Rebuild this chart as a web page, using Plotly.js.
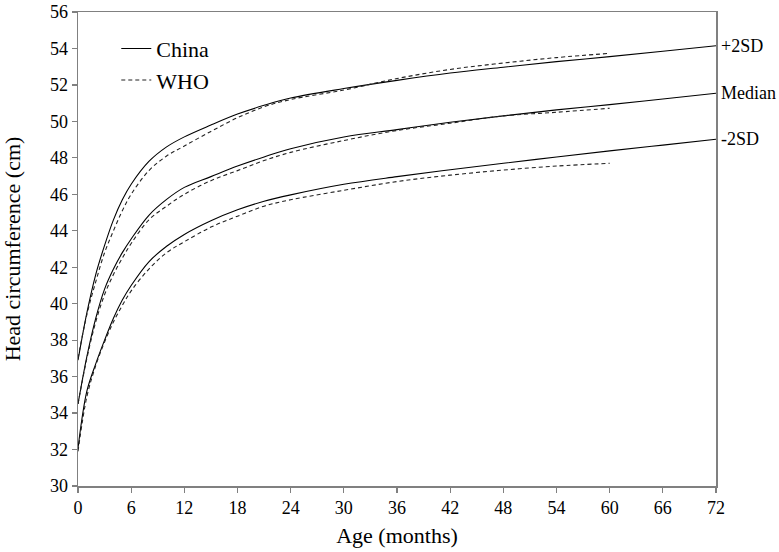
<!DOCTYPE html>
<html>
<head>
<meta charset="utf-8">
<script src="https://cdn.plot.ly/plotly-3.0.1.min.js"></script>
<style>html,body{margin:0;padding:0;background:#fff}#chart{width:779px;height:552px}</style>
</head>
<body>
<div id="chart"></div>
<script>
// Age in months
var chinaMonths = [0,1,2,3,4,5,6,8,10,12,15,18,21,24,30,36,42,48,54,60,66,72];
var chinaPlus2SD = [36.9,39.5,41.6,43.2,44.6,45.7,46.55,47.8,48.6,49.15,49.8,50.4,50.88,51.28,51.8,52.25,52.65,52.97,53.28,53.55,53.85,54.15];
var chinaMedian  = [34.5,37.1,39.2,40.8,41.9,42.8,43.55,44.85,45.72,46.38,46.97,47.55,48.05,48.5,49.14,49.55,49.95,50.3,50.63,50.92,51.23,51.54];
var chinaMinus2SD = [32.07,35.2,36.7,38.0,39.2,40.2,41.0,42.3,43.15,43.8,44.55,45.15,45.62,45.97,46.55,46.97,47.35,47.7,48.05,48.38,48.7,49.02];

var whoMonths = [0,1,2,3,4,5,6,8,10,12,15,18,21,24,30,36,42,48,54,60];
var whoPlus2SD = [37.0,39.4,41.2,42.8,44.0,45.1,46.0,47.3,48.1,48.65,49.45,50.2,50.8,51.2,51.72,52.35,52.85,53.2,53.5,53.73];
var whoMedian  = [34.5,37.0,39.0,40.5,41.6,42.5,43.3,44.6,45.35,46.0,46.75,47.3,47.85,48.3,48.95,49.5,49.9,50.3,50.5,50.72];
var whoMinus2SD = [31.9,34.9,36.6,37.9,39.0,39.9,40.7,41.9,42.8,43.4,44.2,44.8,45.35,45.7,46.22,46.7,47.05,47.33,47.55,47.7];

var curveLabels = ['+2SD','Median','-2SD'];
var xTicks = [0,6,12,18,24,30,36,42,48,54,60,66,72];
var yTicks = [30,32,34,36,38,40,42,44,46,48,50,52,54,56];

var serif = 'Liberation Serif';
var solid = {color:'#000', width:1.1, shape:'spline', smoothing:1};
var dashed = {color:'#222', width:1.1, dash:'4px,3px', shape:'spline', smoothing:1};

var chinaSets = [chinaPlus2SD, chinaMedian, chinaMinus2SD];
var whoSets = [whoPlus2SD, whoMedian, whoMinus2SD];
var traces = [];
chinaSets.forEach(function(s, i){
  traces.push({x:chinaMonths, y:s, type:'scatter', mode:'lines', line:solid,
    name:'China', legendgroup:'china', showlegend:i===0, hoverinfo:'skip'});
});
whoSets.forEach(function(s, i){
  traces.push({x:whoMonths, y:s, type:'scatter', mode:'lines', line:dashed,
    name:'WHO', legendgroup:'who', showlegend:i===0, hoverinfo:'skip'});
});

var annotations = chinaSets.map(function(s, i){
  return {x:chinaMonths[chinaMonths.length-1], y:s[s.length-1], xref:'x', yref:'y',
    text:curveLabels[i], showarrow:false, xanchor:'left', yanchor:'middle', xshift:3,
    font:{family:serif, size:18, color:'#000'}};
});

var axisCommon = {
  showgrid:false, zeroline:false, showline:true, linecolor:'#808080', linewidth:1.5,
  mirror:true, ticks:'outside', ticklen:5, tickwidth:1.2, tickcolor:'#808080',
  tickfont:{family:serif, size:18, color:'#000'}
};

var layout = {
  width:779, height:552,
  margin:{l:78, r:63, t:12, b:66},
  paper_bgcolor:'#fff', plot_bgcolor:'#fff',
  font:{family:serif},
  showlegend:true,
  legend:{x:0.06, y:0.967, xanchor:'left', yanchor:'top', bgcolor:'rgba(0,0,0,0)',
    font:{family:serif, size:22, color:'#000'}, tracegroupgap:0},
  xaxis:Object.assign({}, axisCommon, {range:[0,72], tickvals:xTicks,
    title:{text:'Age (months)', font:{family:serif, size:22, color:'#000'}, standoff:10}}),
  yaxis:Object.assign({}, axisCommon, {range:[30,56], tickvals:yTicks,
    title:{text:'Head circumference (cm)', font:{family:serif, size:22, color:'#000'}, standoff:24}}),
  annotations:annotations
};

Plotly.newPlot('chart', traces, layout, {staticPlot:true, displayModeBar:false});
</script>
</body>
</html>
